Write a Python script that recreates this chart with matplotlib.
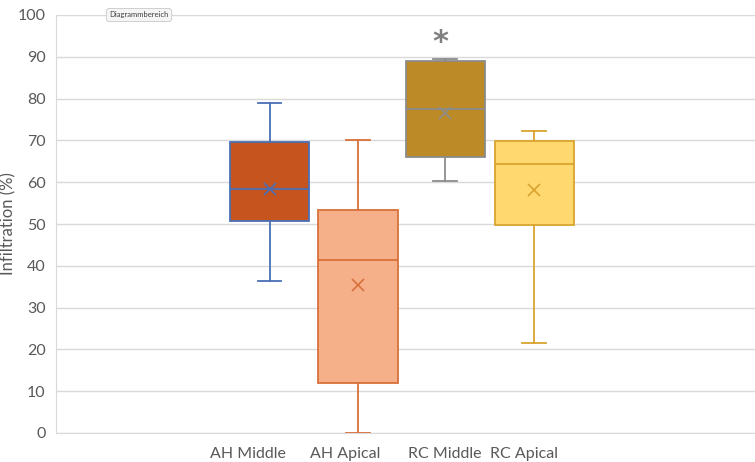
import matplotlib
matplotlib.use('Agg')
import matplotlib.pyplot as plt

plt.rcParams['font.family'] = ['Lato', 'DejaVu Sans']

# data (values in %)
groups = ['AH Middle', 'AH Apical', 'RC Middle', 'RC Apical']
whislo = [36.3, 0.0, 60.2, 21.6]
q1 = [50.8, 12.0, 66.1, 49.7]
med = [58.4, 41.3, 77.4, 64.3]
q3 = [69.6, 53.3, 89.0, 69.9]
whishi = [78.9, 70.1, 89.4, 72.3]
means = [58.4, 35.4, 76.6, 58.1]

fills = ['#C5541F', '#F5B08A', '#BD8A28', '#FFD970']
edges = ['#4A6FB5', '#D9703A', '#8C8C8C', '#D9A42E']

box_pos = [1.0, 2.0, 2.99, 4.0]
label_pos = [0.76, 1.86, 2.98, 3.88]

fig = plt.figure(figsize=(7.55, 4.62), dpi=100)
ax = fig.add_axes([56/755, 29/462, 699/755, 418/462])

stats = []
for i in range(len(groups)):
    stats.append(dict(whislo=whislo[i], q1=q1[i], med=med[i], q3=q3[i],
                      whishi=whishi[i], mean=means[i], fliers=[]))

for i, s in enumerate(stats):
    ec = edges[i]
    ax.bxp([s], positions=[box_pos[i]], widths=0.9, patch_artist=True,
           showmeans=True, showfliers=False,
           boxprops=dict(facecolor=fills[i], edgecolor=ec, linewidth=1.3),
           medianprops=dict(color=ec, linewidth=1.3),
           whiskerprops=dict(color=ec, linewidth=1.3),
           capprops=dict(color=ec, linewidth=1.3),
           capwidths=0.27,
           meanprops=dict(marker='x', markeredgecolor=ec, markersize=8,
                          markeredgewidth=1.2),
           zorder=3)

# significance mark above RC Middle
ax.text(box_pos[2] - 0.05, 93.5, '*', ha='center', va='center', fontsize=22,
        fontweight='bold', color='#7F7F7F', family='DejaVu Sans')

ax.set_xlim(-1.42, 6.5)
ax.set_ylim(0, 100)
ax.set_yticks(range(0, 101, 10))
ax.set_xticks(label_pos)
ax.set_xticklabels(groups, fontsize=11.5)
ax.tick_params(axis='both', length=0, colors='#595959')
ax.tick_params(axis='y', pad=7.5, labelsize=11.5)
ax.tick_params(axis='x', pad=10)
ax.grid(axis='y', color='#D9D9D9', linewidth=1.0, zorder=0)
ax.set_axisbelow(True)
for sp in ['top', 'right']:
    ax.spines[sp].set_visible(False)
ax.spines['left'].set_color('#D9D9D9')
ax.spines['bottom'].set_color('#D9D9D9')
ax.set_ylabel('Infiltration (%)', color='#595959', fontsize=12)
ax.yaxis.set_label_coords(-40/699, 0.5)

fig.text(139/755, 1 - 15/462, 'Diagrammbereich', fontsize=5.5, color='#404040',
         ha='center', va='center',
         bbox=dict(boxstyle='round,pad=0.4', facecolor='#F5F5F5',
                   edgecolor='#C8C8C8', linewidth=0.6))

fig.savefig('out.png', dpi=100)
